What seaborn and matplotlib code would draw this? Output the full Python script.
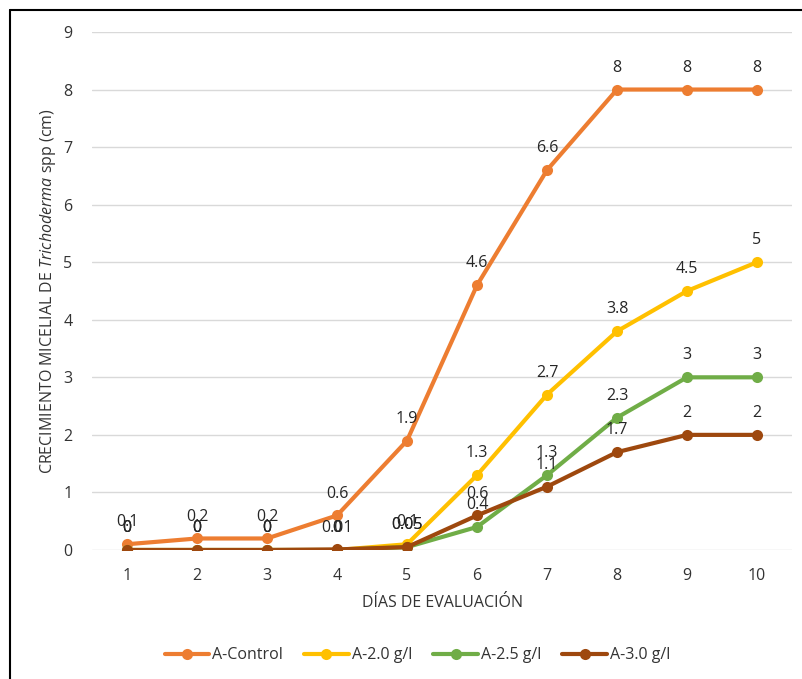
import matplotlib
matplotlib.use("Agg")
import matplotlib.pyplot as plt
import matplotlib.lines as mlines
import pandas as pd
import seaborn as sns

dias = [1, 2, 3, 4, 5, 6, 7, 8, 9, 10]
control = [0.1, 0.2, 0.2, 0.6, 1.9, 4.6, 6.6, 8, 8, 8]
dosis_20 = [0, 0, 0, 0, 0.1, 1.3, 2.7, 3.8, 4.5, 5]
dosis_25 = [0, 0, 0, 0, 0.05, 0.4, 1.3, 2.3, 3, 3]
dosis_30 = [0, 0, 0, 0.01, 0.05, 0.6, 1.1, 1.7, 2, 2]

series = ["A-Control", "A-2.0 g/l", "A-2.5 g/l", "A-3.0 g/l"]
valores = [control, dosis_20, dosis_25, dosis_30]
colores = ["#ED7D31", "#FFC000", "#70AD47", "#9E480E"]

df = pd.DataFrame({
    "dia": dias * len(series),
    "valor": [v for vals in valores for v in vals],
    "serie": [s for s in series for _ in dias],
})

sns.set_theme(style="white")
plt.rcParams["font.family"] = ["Open Sans", "DejaVu Sans"]
plt.rcParams["mathtext.fontset"] = "custom"
plt.rcParams["mathtext.rm"] = "Open Sans"
plt.rcParams["mathtext.it"] = "Open Sans:italic"

fs = 11.5
txt = "#333333"

fig = plt.figure(figsize=(8.03, 6.79), dpi=100)
ax = fig.add_axes([0.1146, 0.19, 0.8717, 0.7629])

sns.lineplot(data=df, x="dia", y="valor", hue="serie", hue_order=series,
             palette=colores, marker="o", markersize=8, markeredgewidth=0,
             linewidth=3, ax=ax, legend=False, zorder=3)

def fmt(v):
    return f"{v:g}"

for vals in valores:
    for d, v in zip(dias, vals):
        ax.annotate(fmt(v), (d, v), xytext=(0, 10), textcoords="offset points",
                    ha="center", va="bottom", fontsize=fs, color="#262626",
                    zorder=5)

ax.set_xlim(0.5, 10.5)
ax.set_ylim(0, 9)
ax.set_xticks(dias)
ax.set_yticks(range(0, 10))
ax.yaxis.grid(True, color="#D9D9D9", linewidth=1)
ax.xaxis.grid(False)
for s in ax.spines.values():
    s.set_visible(False)
ax.tick_params(axis="both", length=0, labelsize=fs, colors=txt)
ax.tick_params(axis="x", pad=13)
ax.tick_params(axis="y", pad=14)

ax.set_xlabel("DÍAS DE EVALUACIÓN", fontsize=fs, color=txt, labelpad=8)
ax.set_ylabel(r"CRECIMIENTO MICELIAL DE $\it{Trichoderma}$ spp (cm)",
              fontsize=fs, color=txt, labelpad=4)

handles = [mlines.Line2D([], [], color=c, marker="o", markersize=8,
                         markeredgewidth=0, linewidth=3) for c in colores]
fig.legend(handles, series, loc="center", bbox_to_anchor=(0.52, 0.035),
           ncol=4, frameon=False, fontsize=fs, handlelength=2.8,
           handletextpad=0.2, columnspacing=1.3)
for t in fig.legends[0].get_texts():
    t.set_color(txt)

# chart frame on the top and left edges
fig.add_artist(mlines.Line2D([10 / 803, 1], [1 - 10 / 679, 1 - 10 / 679],
                             transform=fig.transFigure, color="black", linewidth=1.5))
fig.add_artist(mlines.Line2D([10 / 803, 10 / 803], [0, 1 - 10 / 679],
                             transform=fig.transFigure, color="black", linewidth=1.5))

fig.savefig("out.png", dpi=100)
